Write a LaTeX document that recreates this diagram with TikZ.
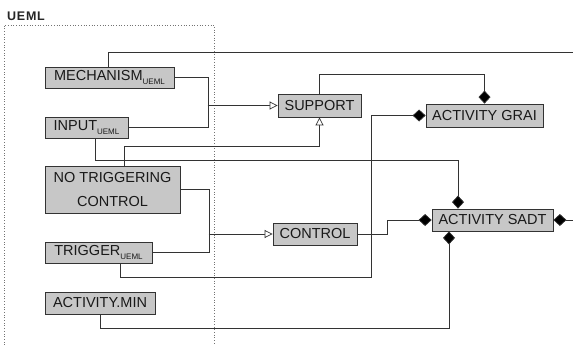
\documentclass[tikz,border=0pt]{standalone}
\usepackage{fontspec}
\setmainfont{Liberation Sans}
\usetikzlibrary{arrows.meta}
\newcommand{\ueml}{\raisebox{-3.5pt}{\fontsize{8}{8}\selectfont UEML}}
\begin{document}
\begin{tikzpicture}[x=1pt,y=-1pt,
  box/.style={draw=black!80, line width=0.8pt, fill=black!22, inner sep=2pt,
     font=\fontsize{14.5}{24}\selectfont, text=black!90},
  conn/.style={draw=black!80, line width=0.7pt},
  opentri/.style={conn, -{Triangle[open, length=8pt, width=8pt, fill=white]}},
  diam/.style={conn, -{Diamond[length=13pt, width=12pt, fill=black]}},
  frame/.style={draw=black!55, line width=0.7pt, dotted}]
\useasboundingbox (0,0) rectangle (573,345);
% frame
\node[anchor=west, inner sep=0pt, font=\fontsize{12.5}{12.5}\selectfont\bfseries\addfontfeature{LetterSpace=6}, text=black!85] (title) at (7,16.5) {UEML};
\draw[frame] (4,345) -- (4,25) -- (214,25) -- (214,345);
% boxes
\node[box, minimum width=129pt, minimum height=21pt] (mech) at (109.5,77.5) {MECHANISM\ueml};
\node[box, minimum width=83pt, minimum height=21pt] (input) at (86.5,127.5) {INPUT\ueml};
\node[box, minimum width=135pt, minimum height=47pt, align=center] (notrig) at (112.5,189.5) {NO TRIGGERING\\CONTROL};
\node[box, minimum width=107pt, minimum height=21pt] (trigger) at (98.5,252.5) {TRIGGER\ueml};
\node[box, minimum width=110pt, minimum height=22pt] (amin) at (100,303) {ACTIVITY.MIN};
\node[box, minimum width=83pt, minimum height=23pt] (support) at (319.5,105.5) {SUPPORT};
\node[box, minimum width=117pt, minimum height=23pt] (grai) at (484.5,115.5) {ACTIVITY GRAI};
\node[box, minimum width=84pt, minimum height=22pt] (control) at (315,234) {CONTROL};
\node[box, minimum width=121pt, minimum height=22pt] (sadt) at (492.5,220) {ACTIVITY SADT};
% free ends and junctions
\coordinate (topend) at (573,52);
\coordinate (rightend) at (573,220);
\path (support.west) ++(-70,0) coordinate (j1);
\path (control.west) ++(-64,0) coordinate (j2);
% connectors
\draw[conn] ([xshift=-1.5pt]mech.north) |- (topend);
\draw[conn] (mech.east) -- ++(34,0) |- (input.east);
\draw[opentri] (j1) -- (support.west);
\draw[diam] (support.north) -- ++(0,-19) -| (grai.north);
\draw[diam] ([xshift=8.5pt]input.south) -- ++(0,22) -| ([xshift=-34.5pt]sadt.north);
\draw[opentri] ([xshift=11.5pt]notrig.north) -- ++(0,-19) -| (support.south);
\draw[conn] (notrig.east) -- ++(29,0) |- (trigger.east);
\draw[opentri] (j2) -- (control.west);
\draw[diam] (control.east) -- ++(30,0) |- (sadt.west);
\draw[diam] ([xshift=21.5pt]trigger.south) -- ++(0,14) -| ([xshift=-54pt]grai.west) -- (grai.west);
\draw[diam] (amin.south) -- ++(0,14) -| ([xshift=-43.5pt]sadt.south);
\draw[diam] (rightend) -- (sadt.east);
\end{tikzpicture}
\end{document}
